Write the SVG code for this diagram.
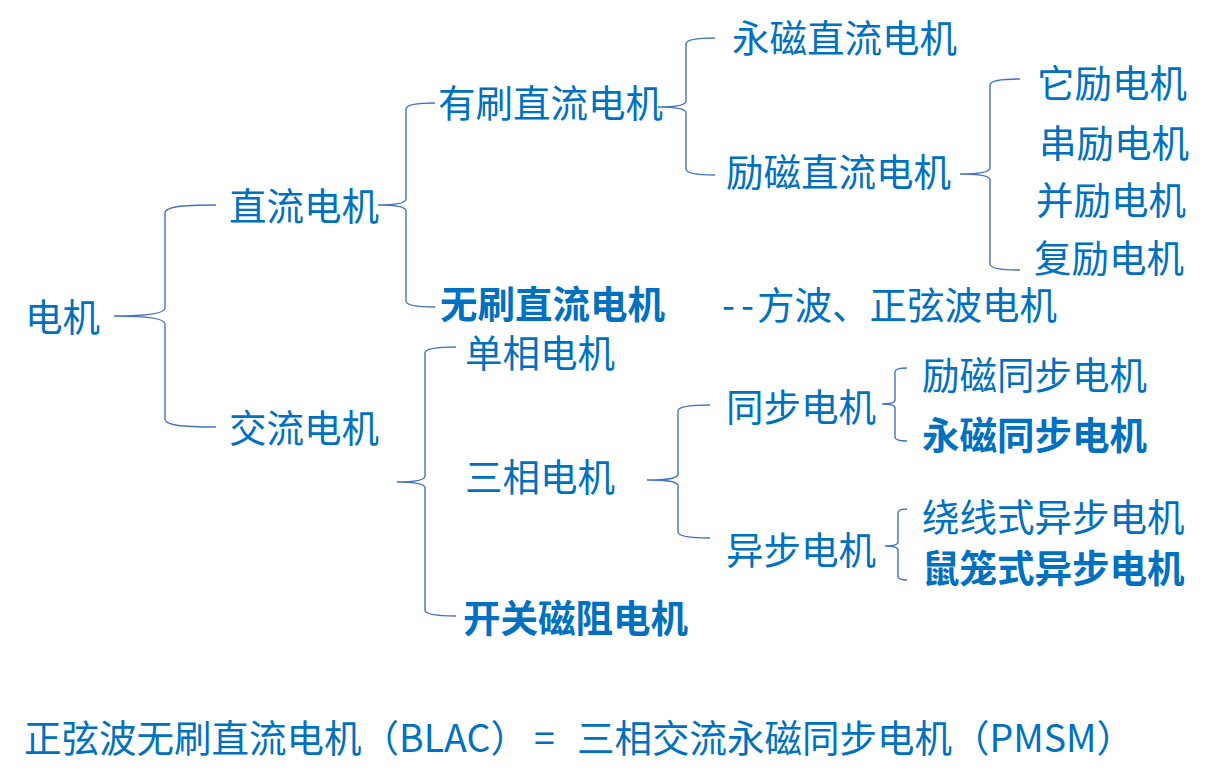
<svg xmlns="http://www.w3.org/2000/svg" width="1211" height="782" viewBox="0 0 1211 782">
<style>
.t{font-family:"Noto Sans CJK SC","Noto Sans",sans-serif;font-size:37.5px;fill:#0070C0}
.b{font-weight:bold}
.br{fill:none;stroke:#4472C4;stroke-width:1.4}
</style>
<rect width="1211" height="782" fill="#ffffff"/>
<g id="connectors">
<path class="br" d="M216,205 C180,205 165,207 165,213 L165,308 C165,313 150,316 114,316 C150,316 165,319 165,324 L165,419 C165,425 180,427 216,427"/>
<path class="br" d="M435,103 C415,103 406,105 406,109 L406,199 C406,203 398,205 378,205 C398,205 406,207 406,211 L406,301 C406,305 415,307 435,307"/>
<path class="br" d="M715,38 C695,38 686,40 686,44 L686,101 C686,105 678,107 658,107 C678,107 686,109 686,113 L686,169 C686,173 695,175 715,175"/>
<path class="br" d="M1020,79 C1000,79 990,81 990,85 L990,168 C990,172 982,174 960,174 C982,174 990,176 990,180 L990,264 C990,268 1000,270 1020,270"/>
<path class="br" d="M456,347 C435,347 425,349 425,353 L425,476 C425,480 417,482 397,482 C417,482 425,484 425,488 L425,610 C425,614 435,616 456,616"/>
<path class="br" d="M710,405 C688,405 678,407 678,411 L678,474 C678,478 670,480 647,480 C670,480 678,482 678,486 L678,532 C678,536 688,538 710,538"/>
<path class="br" d="M907,368 C899,368 895,369 895,372 L895,400 C895,403 890,404 882,404 C890,404 895,405 895,408 L895,437 C895,440 899,441 907,441"/>
<path class="br" d="M907,509 C901,509 898,510 898,513 L898,542 C898,545 893,546 885,546 C893,546 898,547 898,550 L898,576 C898,579 901,580 907,580"/>
</g>
<g id="n-root"><text class="t" x="25" y="331">电机</text></g>
<g id="n-dc"><text class="t" x="229" y="220">直流电机</text></g>
<g id="n-ac"><text class="t" x="229" y="442">交流电机</text></g>
<g id="n-brushed"><text class="t" x="438" y="117">有刷直流电机</text></g>
<g id="n-bldc"><text class="t b" x="440" y="318">无刷直流电机</text></g>
<g id="n-bldc-note"><text class="t" x="722" y="319"><tspan letter-spacing="6">--</tspan><tspan x="757">方波、正弦波电机</tspan></text></g>
<g id="n-pmdc"><text class="t" x="732" y="52">永磁直流电机</text></g>
<g id="n-eedc"><text class="t" x="726" y="186">励磁直流电机</text></g>
<g id="n-sep"><text class="t" x="1037" y="97">它励电机</text></g>
<g id="n-series"><text class="t" x="1039" y="157">串励电机</text></g>
<g id="n-shunt"><text class="t" x="1036" y="214">并励电机</text></g>
<g id="n-compound"><text class="t" x="1034" y="272">复励电机</text></g>
<g id="n-single"><text class="t" x="465" y="367">单相电机</text></g>
<g id="n-three"><text class="t" x="465" y="491">三相电机</text></g>
<g id="n-srm"><text class="t b" x="463" y="632">开关磁阻电机</text></g>
<g id="n-sync"><text class="t" x="726" y="421">同步电机</text></g>
<g id="n-async"><text class="t" x="726" y="564">异步电机</text></g>
<g id="n-eesm"><text class="t" x="922" y="389">励磁同步电机</text></g>
<g id="n-pmsm"><text class="t b" x="922" y="449">永磁同步电机</text></g>
<g id="n-wound"><text class="t" x="922" y="531">绕线式异步电机</text></g>
<g id="n-squirrel"><text class="t b" x="922" y="582">鼠笼式异步电机</text></g>
<g id="n-note"><text class="t" x="24" y="752">正弦波无刷直流电机（BLAC）<tspan x="534">=</tspan><tspan x="577">三相交流永磁同步电机（PMSM）</tspan></text></g>
</svg>
